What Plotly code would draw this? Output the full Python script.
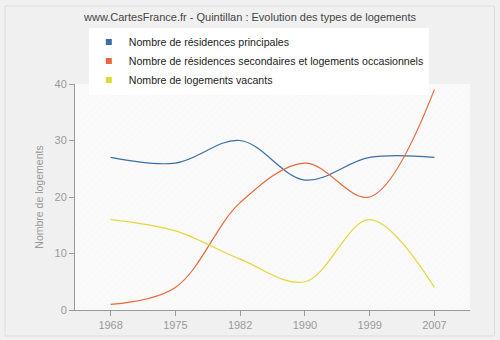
import plotly.graph_objects as go

years = ["1968", "1975", "1982", "1990", "1999", "2007"]
principales = [27, 26, 30, 23, 27, 27]
secondaires = [1, 4, 19, 26, 20, 39]
vacants = [16, 14, 9, 5, 16, 4]
y_ticks = [0, 10, 20, 30, 40]

names = ["Nombre de résidences principales",
         "Nombre de résidences secondaires et logements occasionnels",
         "Nombre de logements vacants"]
colors = ["#3b6ea8", "#e8693a", "#e3d83a"]
series = [principales, secondaires, vacants]
xpos = list(range(len(years)))

fig = go.Figure()

# hatch background
fig.add_trace(go.Scatter(x=[-0.55, 5.55, 5.55, -0.55, -0.55], y=[0, 0, 40, 40, 0],
                         mode="lines", line=dict(width=0), fill="toself",
                         fillcolor="#fafafa",
                         fillpattern=dict(shape="/", fgcolor="#ebebeb", bgcolor="#fafafa",
                                          size=5, solidity=0.12),
                         hoverinfo="skip", showlegend=False))

for n, c, s in zip(names, colors, series):
    fig.add_trace(go.Scatter(x=xpos, y=s, mode="lines",
                             line=dict(color=c, width=1.2, shape="spline", smoothing=1),
                             showlegend=False))
for n, c in zip(names, colors):
    fig.add_trace(go.Scatter(x=[None], y=[None], mode="markers", name=n,
                             marker=dict(symbol="square", size=6, color=c)))

fig.update_layout(
    width=500, height=340,
    margin=dict(l=75, r=30, t=84, b=30, autoexpand=False),
    paper_bgcolor="#f0f0f0",
    plot_bgcolor="#fafafa",
    font=dict(family="Liberation Sans, Arial, sans-serif", size=11, color="#999"),
    title=dict(text="www.CartesFrance.fr - Quintillan : Evolution des types de logements",
               x=0.5, xanchor="center", y=0.95, yanchor="middle",
               font=dict(size=11, color="#444")),
    legend=dict(x=0.035, y=1.25, xanchor="left", yanchor="top", bgcolor="#ffffff",
                font=dict(size=10.6, color="#222"), tracegroupgap=0),
    xaxis=dict(range=[-0.55, 5.55], tickvals=xpos, ticktext=years, showgrid=True,
               gridcolor="#e2e2e2", griddash="dash", gridwidth=1, showline=True,
               linecolor="#999", linewidth=1, ticks="outside", ticklen=5, tickcolor="#999",
               zeroline=False, tickfont=dict(size=11, color="#999")),
    yaxis=dict(range=[0, 40], tickvals=y_ticks, showgrid=True, gridcolor="#e2e2e2",
               griddash="dash", showline=True, linecolor="#999", linewidth=1,
               ticks="outside", ticklen=5, tickcolor="#999", zeroline=False,
               title=dict(text="Nombre de logements", font=dict(size=10.5, color="#999"), standoff=8),
               tickfont=dict(size=11, color="#999")),
    shapes=[dict(type="rect", xref="paper", yref="paper", x0=-0.177, x1=1.062, y0=-0.115, y1=1.345,
                 line=dict(color="#dddddd", width=1), layer="below")],
)

fig.write_html("out.html")
